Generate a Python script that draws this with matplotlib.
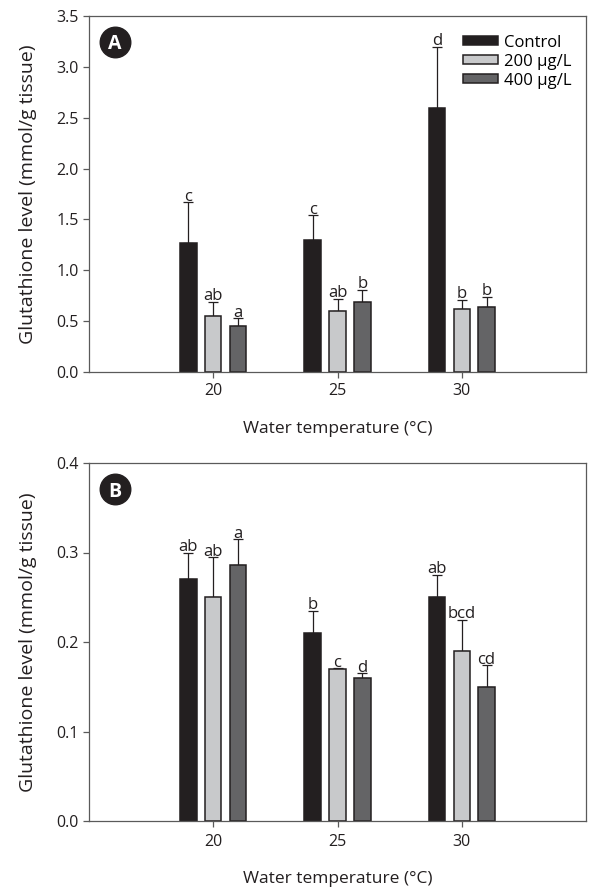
import matplotlib
matplotlib.use("Agg")
import matplotlib.pyplot as plt
import numpy as np

plt.rcParams['font.family'] = ['Open Sans', 'DejaVu Sans']

temps = [20, 25, 30]
series = ["Control", "200 \u00b5g/L", "400 \u00b5g/L"]
colors = ["#231f20", "#c8c9cb", "#646466"]

a_vals = [[1.27, 1.30, 2.60], [0.55, 0.60, 0.62], [0.45, 0.69, 0.64]]
a_errs = [[0.40, 0.24, 0.60], [0.14, 0.12, 0.09], [0.08, 0.12, 0.10]]
a_lets = [["c", "c", "d"], ["ab", "ab", "b"], ["a", "b", "b"]]

b_vals = [[0.270, 0.210, 0.250], [0.250, 0.170, 0.190], [0.286, 0.160, 0.150]]
b_errs = [[0.030, 0.025, 0.025], [0.045, 0.001, 0.035], [0.029, 0.005, 0.024]]
b_lets = [["ab", "b", "ab"], ["ab", "c", "bcd"], ["a", "d", "cd"]]

offsets = [-1.0, 0.0, 1.0]
width = 0.66

fig = plt.figure(figsize=(5.89, 8.89), dpi=100)
W, H = 589, 889
axA = fig.add_axes([89 / W, 1 - 372 / H, (586 - 89) / W, (372 - 16) / H])
axB = fig.add_axes([89 / W, 1 - 821 / H, (586 - 89) / W, (821 - 463) / H])

DARK = '#231f20'


def draw(ax, vals, errs, lets, ymax, yticks, yfmt, label, legend, xpad, lpad):
    x = np.array(temps, dtype=float)
    for i in range(3):
        ax.bar(x + offsets[i], vals[i], width, color=colors[i],
               edgecolor=DARK, linewidth=1.1, label=series[i], zorder=2)
        ax.errorbar(x + offsets[i], vals[i], yerr=[np.zeros(3), errs[i]],
                    fmt='none', ecolor=DARK, elinewidth=0.9,
                    capsize=3.9, capthick=0.9, zorder=1)
        for j in range(3):
            top = vals[i][j] + errs[i][j]
            ax.annotate(lets[i][j], (x[j] + offsets[i], top), xytext=(0, 1.0),
                        textcoords='offset points', ha='center', va='baseline',
                        fontsize=12, color=DARK)
    ax.set_xlim(15, 35)
    ax.set_ylim(0, ymax)
    ax.set_xticks(temps)
    ax.set_xticklabels([str(t) for t in temps])
    ax.set_yticks(yticks)
    ax.set_yticklabels([yfmt.format(v) for v in yticks])
    ax.tick_params(axis='both', direction='out', length=4, width=0.9,
                   color='#5a5a5a', labelcolor=DARK, labelsize=11.5, pad=3.5)
    ax.tick_params(axis='x', pad=xpad)
    for s in ax.spines.values():
        s.set_color('#5a5a5a')
        s.set_linewidth(0.9)
    ax.set_ylabel("Glutathione level (mmol/g tissue)", fontsize=14,
                  color=DARK)
    ax.yaxis.set_label_coords(-0.104, 0.5)
    ax.set_xlabel("Water temperature (\u00b0C)", fontsize=12.5,
                  color=DARK, labelpad=lpad)
    ax.plot([0.052], [0.927], 'o', transform=ax.transAxes, markersize=22,
            color=DARK, clip_on=False, zorder=5)
    ax.text(0.052, 0.927, label, transform=ax.transAxes, ha='center',
            va='center_baseline', color='white', fontsize=14,
            fontweight='bold', zorder=6)
    if legend:
        ax.legend(loc='upper left', bbox_to_anchor=(0.7525, 0.947),
                  frameon=False, fontsize=12, handlelength=2.1,
                  handleheight=0.45, handletextpad=0.35, labelspacing=0.18,
                  borderpad=0, borderaxespad=0)


draw(axA, a_vals, a_errs, a_lets, 3.5, [0, 0.5, 1.0, 1.5, 2.0, 2.5, 3.0, 3.5],
     "{:.1f}", "A", True, 4.0, 16)
draw(axB, b_vals, b_errs, b_lets, 0.4, [0, 0.1, 0.2, 0.3, 0.4], "{:.1f}",
     "B", False, 5.5, 15)

fig.savefig("out.png", dpi=100)
